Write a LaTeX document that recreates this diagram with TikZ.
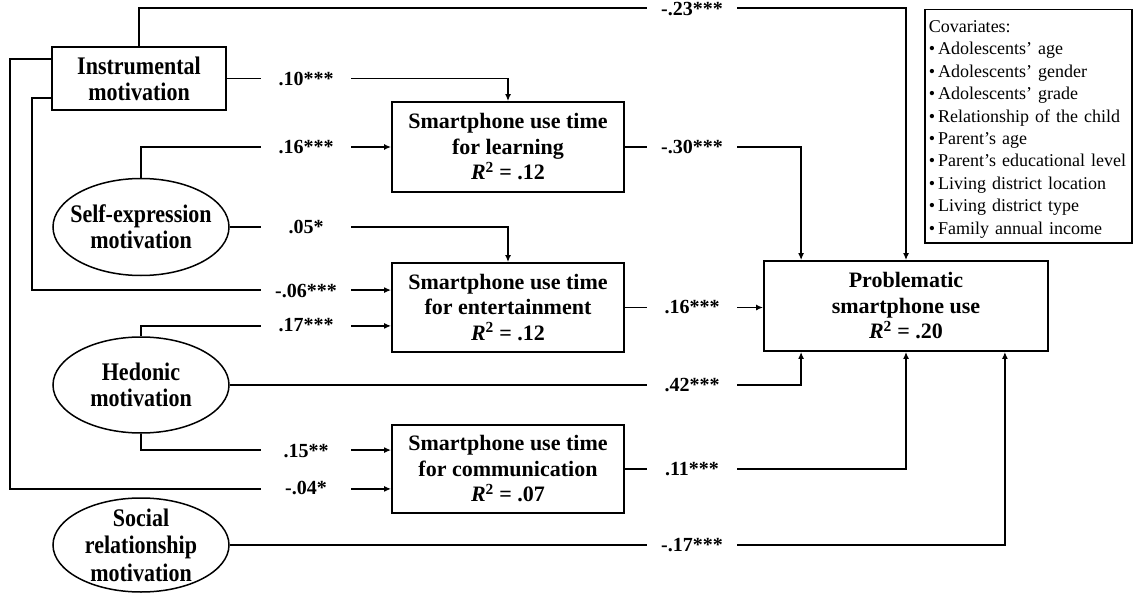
\documentclass[tikz,border=0pt]{standalone}
\usepackage{fontspec}
\setmainfont{Liberation Serif}
\newfontfamily\tallfont{Liberation Serif}[FakeStretch=0.87]
\usetikzlibrary{arrows.meta,shapes.geometric}
\begin{document}
\begin{tikzpicture}[x=1pt,y=-1pt,
  box/.style={draw, line width=1.8pt, align=center, font=\bfseries\fontsize{22}{25.5}\selectfont, inner sep=0pt},
  oval/.style={draw, ellipse, line width=1.5pt, minimum width=176pt, inner sep=0pt},
  tall/.style={font=\tallfont\bfseries\fontsize{25.3}{26}\selectfont},
  ovaltext/.style={align=center, inner sep=0pt, tall},
  conn/.style={line width=1.8pt},
  arr/.style={conn, -{Latex[length=7pt,width=6pt]}},
  coef/.style={fill=white, minimum width=90pt, inner ysep=1pt, font=\bfseries\fontsize{20}{24}\selectfont},
]
\useasboundingbox (0,0) rectangle (1133,594);

% boxes
\node[box, tall, minimum width=174pt, minimum height=63pt] (instr) at (139,78.5) {Instrumental\\motivation};
\node[box, minimum width=232pt, minimum height=90pt] (learn) at (508,147) {Smartphone use time\\for learning\\\textit{R}\textsuperscript{2} = .12};
\node[box, minimum width=232pt, minimum height=89pt] (ent) at (508,307.5) {Smartphone use time\\for entertainment\\\textit{R}\textsuperscript{2} = .12};
\node[box, minimum width=232pt, minimum height=88pt] (comm) at (508,469) {Smartphone use time\\for communication\\\textit{R}\textsuperscript{2} = .07};
\node[box, minimum width=284pt, minimum height=90pt] (prob) at (906,306) {Problematic\\smartphone use\\\textit{R}\textsuperscript{2} = .20};

% ellipses
\node[oval, minimum height=97pt] (self) at (141,227) {};
\node[ovaltext] (selft) at (self.center) {Self-expression\\motivation};
\node[oval, minimum height=96pt] (hed) at (141,385) {};
\node[ovaltext] (hedt) at (hed.center) {Hedonic\\motivation};
\node[oval, minimum height=94pt] (soc) at (141,545) {};
\node[ovaltext, font=\tallfont\bfseries\fontsize{25.3}{27.5}\selectfont] (soct) at (soc.center) {Social\\relationship\\motivation};

% covariates
\node[draw, line width=1.5pt, anchor=north west, text width=199pt, align=left, inner xsep=4pt, minimum height=233pt, font=\fontsize{18}{22.4}\selectfont] (cov) at (924,9) {\rule{0pt}{18pt}Covariates:\\
•\,Adolescents’ age\\
•\,Adolescents’ gender\\
•\,Adolescents’ grade\\
•\,Relationship of the child\\
•\,Parent’s age\\
•\,Parent’s educational level\\
•\,Living district location\\
•\,Living district type\\
•\,Family annual income};

% connectors
\draw[arr] (instr.north) -- ++(0,-38) -| (prob.north);
\draw[arr] ([yshift=-13pt]instr.north west) -- ++(-41,0) |- ([yshift=25pt]comm.south west);
\draw[arr] ([yshift=13pt]instr.south west) -- ++(-19,0) |- ([yshift=-28pt]ent.north west);
\draw[arr] (instr.east) -| (learn.north);
\draw[arr] (self.north) |- (learn.west);
\draw[arr] (self.east) -| (ent.north);
\draw[arr] (hed.north) |- ([yshift=27pt]ent.south west);
\draw[arr] (hed.south) |- ([yshift=-26pt]comm.north west);
\draw[arr] (hed.east) -| ([xshift=38pt]prob.south west);
\draw[arr] (learn.east) -| ([xshift=38pt]prob.north west);
\draw[arr] (ent.east) -- (ent.east -| prob.west);
\draw[arr] (comm.east) -| (prob.south);
\draw[arr] (soc.east) -| ([xshift=-44pt]prob.south east);

% coefficients
\node[coef] (c1) at (692,9) {-.23***};
\node[coef] (c2) at (306,78.5) {.10***};
\node[coef] (c3) at (306,147) {.16***};
\node[coef] (c4) at (306,227) {.05*};
\node[coef] (c5) at (306,291) {-.06***};
\node[coef] (c6) at (306,325) {.17***};
\node[coef] (c7) at (306,451) {.15**};
\node[coef] (c8) at (306,488) {-.04*};
\node[coef] (c9) at (692,147) {-.30***};
\node[coef] (c10) at (692,307.5) {.16***};
\node[coef] (c11) at (692,385) {.42***};
\node[coef] (c12) at (692,469) {.11***};
\node[coef] (c13) at (692,545) {-.17***};
\end{tikzpicture}
\end{document}
